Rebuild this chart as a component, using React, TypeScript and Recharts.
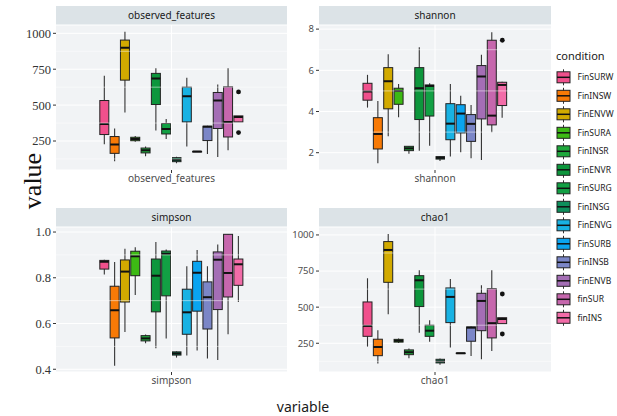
import {
	Bar,
	CartesianGrid,
	ComposedChart,
	ReferenceLine,
	Scatter,
	XAxis,
	YAxis,
} from "recharts";

const conditions = [
	"FinSURW",
	"FinINSW",
	"FinENVW",
	"FinSURA",
	"FinINSR",
	"FinENVR",
	"FinSURG",
	"FinINSG",
	"FinENVG",
	"FinSURB",
	"FinINSB",
	"FinENVB",
	"finSUR",
	"finINS",
];

const fills = [
	"#F0508C",
	"#F87A06",
	"#D2AA00",
	"#3DBA14",
	"#1FA83C",
	"#0D963C",
	"#12A044",
	"#0E8F5C",
	"#18B2E3",
	"#0AA4F0",
	"#7B86C7",
	"#A46EB5",
	"#C667AD",
	"#F26CA8",
];

// [lower whisker, q1, median, q3, upper whisker], one per condition
const observedStats = [
	[227, 295, 369, 532, 704],
	[109, 164, 225, 281, 337],
	[449, 674, 900, 953, 1011],
	[245, 252, 264, 276, 285],
	[144, 167, 185, 201, 211],
	[323, 504, 686, 721, 756],
	[264, 299, 334, 372, 404],
	[95, 106, 120, 134, 141],
	[211, 383, 562, 625, 690],
	[174, 175, 176, 177, 178],
	[160, 253, 350, 353, 356],
	[139, 337, 532, 588, 644],
	[185, 278, 383, 627, 756],
	[383, 383, 418, 425, 425],
];
const observedOutliers = [592, 309];

const shannonStats = [
	[4.19, 4.55, 4.97, 5.37, 5.78],
	[1.49, 2.18, 2.91, 3.7, 4.51],
	[2.8, 4.13, 5.47, 6.13, 6.78],
	[3.72, 4.35, 5.0, 5.13, 5.33],
	[1.95, 2.1, 2.21, 2.31, 2.33],
	[2.1, 3.61, 5.13, 6.13, 7.12],
	[2.34, 3.78, 5.24, 5.29, 5.37],
	[1.6, 1.69, 1.75, 1.81, 1.83],
	[1.81, 2.63, 3.41, 4.38, 5.34],
	[2.02, 2.96, 3.9, 4.33, 4.77],
	[1.73, 2.55, 3.4, 3.85, 4.32],
	[1.65, 3.64, 5.7, 6.23, 6.75],
	[2.99, 3.35, 3.8, 7.46, 7.85],
	[3.7, 4.29, 5.29, 5.42, 5.45],
];
const shannonOutliers = [7.46];

const simpsonStats = [
	[0.814, 0.838, 0.87, 0.876, 0.879],
	[0.415, 0.537, 0.658, 0.763, 0.869],
	[0.563, 0.694, 0.827, 0.878, 0.927],
	[0.725, 0.809, 0.894, 0.916, 0.933],
	[0.514, 0.524, 0.535, 0.547, 0.552],
	[0.492, 0.651, 0.809, 0.882, 0.956],
	[0.534, 0.721, 0.905, 0.917, 0.924],
	[0.451, 0.462, 0.469, 0.476, 0.478],
	[0.46, 0.553, 0.649, 0.75, 0.85],
	[0.482, 0.654, 0.822, 0.872, 0.921],
	[0.447, 0.576, 0.715, 0.782, 0.85],
	[0.441, 0.661, 0.879, 0.913, 0.946],
	[0.553, 0.716, 0.821, 0.99, 0.99],
	[0.694, 0.767, 0.859, 0.882, 0.983],
];
const simpsonOutliers: number[] = [];

const chao1Stats = [
	[227, 298, 370, 536, 700],
	[109, 164, 224, 278, 340],
	[451, 672, 896, 954, 1007],
	[252, 258, 267, 277, 283],
	[146, 171, 188, 204, 214],
	[323, 504, 686, 718, 756],
	[261, 298, 337, 375, 409],
	[102, 114, 125, 139, 144],
	[220, 393, 571, 633, 695],
	[179, 180, 181, 182, 183],
	[162, 264, 358, 363, 366],
	[139, 337, 543, 596, 651],
	[197, 287, 389, 628, 756],
	[386, 386, 418, 427, 427],
];
const chao1Outliers = [591, 314];

const countTicks = [250, 500, 750, 1000];
const countMinor = [125, 375, 625, 875];
const shannonTicks = [2, 4, 6, 8];
const shannonMinor = [3, 5, 7];
const simpsonTicks = [0.4, 0.6, 0.8, 1.0];
const simpsonMinor = [0.5, 0.7, 0.9];

const AXIS_W = 60;
const PLOT_H = 145;
const TOP_PAD = 8;
const STRIP_H = 19;
const PANEL_BG = "#F1F3F5";
const STRIP_BG = "#DCE3E7";
const SANS = "'Noto Sans', sans-serif";
const SERIF = "'Liberation Serif', serif";

type Row = {
	grp: string;
	cond: string;
	wh: number[];
	box: number[];
	med: number;
	o1?: number;
	o2?: number;
};

function buildRows(grp: string, stats: number[][], outliers: number[]): Row[] {
	return conditions.map((cond, i) => {
		const s = stats[i];
		const last = i === conditions.length - 1;
		return {
			grp,
			cond,
			wh: [s[0], s[4]],
			box: [s[1], s[3]],
			med: s[2],
			o1: last ? outliers[0] : undefined,
			o2: last ? outliers[1] : undefined,
		};
	});
}

function Whisker(p: any) {
	const cx = p.x + p.width / 2;
	return (
		<line
			x1={cx}
			x2={cx}
			y1={p.y}
			y2={p.y + p.height}
			stroke="#333"
			strokeWidth={1.1}
		/>
	);
}

function BoxShape(p: any) {
	const row: Row = p.payload;
	const top = Math.min(p.y, p.y + p.height);
	const h = Math.abs(p.height);
	const [q1, q3] = row.box;
	const medY = q3 > q1 ? top + (h * (q3 - row.med)) / (q3 - q1) : top;
	const w = p.width * 0.9;
	const x = p.x + (p.width - w) / 2;
	const fill = fills[conditions.indexOf(row.cond)];
	return (
		<g>
			<rect
				x={x}
				y={top}
				width={w}
				height={Math.max(h, 0.5)}
				fill={fill}
				stroke="#222"
				strokeWidth={1}
			/>
			<line x1={x} x2={x + w} y1={medY} y2={medY} stroke="#111" strokeWidth={2} />
		</g>
	);
}

function Dot(p: any) {
	if (p.cy == null || Number.isNaN(p.cy) || p.payload?.[p.dk] == null) return <g />;
	return <circle cx={p.cx} cy={p.cy} r={2.4} fill="#111" />;
}

type PanelProps = {
	name: string;
	rows: Row[];
	domain: [number, number];
	ticks: number[];
	minor: number[];
	left: number;
	top: number;
	width: number;
	serif: boolean;
	fmt?: (v: number) => string;
};

function Panel({ name, rows, domain, ticks, minor, left, top, width, serif, fmt }: PanelProps) {
	const pad = width * 0.1875;
	const tickStyle = serif
		? { fill: "#333", fontSize: 12.5, fontFamily: SERIF }
		: { fill: "#4d4d4d", fontSize: 9.5, fontFamily: SANS };
	return (
		<>
			<div
				style={{
					position: "absolute",
					left,
					top: top - STRIP_H,
					width,
					height: STRIP_H,
					background: STRIP_BG,
					fontFamily: SANS,
					fontSize: 10,
					color: "#1a1a1a",
					textAlign: "center",
					lineHeight: `${STRIP_H}px`,
				}}
			>
				{name}
			</div>
			<div style={{ position: "absolute", left: left - AXIS_W, top: top - TOP_PAD }}>
				<ComposedChart
					width={AXIS_W + width}
					height={PLOT_H + 22 + TOP_PAD}
					data={rows}
					margin={{ top: TOP_PAD, right: 0, bottom: 0, left: 0 }}
					barCategoryGap={0}
					barGap={0}
				>
					<XAxis
						xAxisId="lab"
						dataKey="grp"
						type="category"
						allowDuplicatedCategory={false}
						height={22}
						tickSize={3}
						tickMargin={2}
						axisLine={false}
						tickLine={{ stroke: "#333" }}
						tick={{ fill: "#4d4d4d", fontSize: 10, fontFamily: SANS }}
					/>
					<XAxis
						xAxisId="wh"
						dataKey="cond"
						type="category"
						hide
						height={0}
						padding={{ left: pad, right: pad }}
					/>
					<XAxis
						xAxisId="box"
						dataKey="cond"
						type="category"
						hide
						height={0}
						padding={{ left: pad, right: pad }}
					/>
					<YAxis
						type="number"
						domain={domain}
						allowDataOverflow
						ticks={ticks}
						width={AXIS_W}
						tickSize={3}
						tickMargin={2}
						axisLine={false}
						tickLine={{ stroke: "#333" }}
						tick={tickStyle}
						tickFormatter={fmt}
					/>
					<CartesianGrid xAxisId="lab" vertical={false} fill={PANEL_BG} stroke="#fff" strokeWidth={1} />
					{minor.map((v) => (
						<ReferenceLine key={v} xAxisId="lab" y={v} stroke="#fff" strokeWidth={0.5} />
					))}
					<ReferenceLine xAxisId="lab" x={name} stroke="#fff" strokeWidth={1} />
					<Bar xAxisId="wh" dataKey="wh" isAnimationActive={false} shape={Whisker} />
					<Bar xAxisId="box" dataKey="box" isAnimationActive={false} shape={BoxShape} />
					<Scatter
						xAxisId="box"
						dataKey="o1"
						isAnimationActive={false}
						shape={(p: any) => <Dot {...p} dk="o1" />}
					/>
					<Scatter
						xAxisId="box"
						dataKey="o2"
						isAnimationActive={false}
						shape={(p: any) => <Dot {...p} dk="o2" />}
					/>
				</ComposedChart>
			</div>
		</>
	);
}

function Legend() {
	const step = 18.5;
	return (
		<div style={{ position: "absolute", left: 550, top: 44, width: 67, height: 290 }}>
			<div
				style={{
					position: "absolute",
					left: 6,
					top: 4,
					fontFamily: SANS,
					fontSize: 11,
					color: "#1a1a1a",
					whiteSpace: "nowrap",
				}}
			>
				condition
			</div>
			<svg width={67} height={290} style={{ position: "absolute", left: 0, top: 0 }}>
				{conditions.map((c, i) => {
					const yc = 33.3 + i * step;
					const cx = 13.5;
					return (
						<g key={c}>
							<line x1={cx} x2={cx} y1={yc - 8} y2={yc + 8} stroke="#333" strokeWidth={1} />
							<rect x={7} y={yc - 5.5} width={13} height={11} fill={fills[i]} stroke="#222" strokeWidth={1} />
							<line x1={7} x2={20} y1={yc} y2={yc} stroke="#111" strokeWidth={1.5} />
							<text
								x={27.5}
								y={yc}
								dy="0.35em"
								fontFamily={SANS}
								fontSize={8.5}
								fill="#1a1a1a"
							>
								{c}
							</text>
						</g>
					);
				})}
			</svg>
		</div>
	);
}

export default function App() {
	const fmtSimpson = (v: number) => v.toFixed(1);
	return (
		<div
			style={{
				position: "absolute",
				left: 0,
				top: 0,
				width: 617,
				height: 416,
				background: "#fff",
				overflow: "hidden",
			}}
		>
			<Panel
				name="observed_features"
				rows={buildRows("observed_features", observedStats, observedOutliers)}
				domain={[48, 1058]}
				ticks={countTicks}
				minor={countMinor}
				left={56}
				top={25}
				width={231}
				serif
			/>
			<Panel
				name="shannon"
				rows={buildRows("shannon", shannonStats, shannonOutliers)}
				domain={[1.16, 8.2]}
				ticks={shannonTicks}
				minor={shannonMinor}
				left={319}
				top={25}
				width={232}
				serif={false}
			/>
			<Panel
				name="simpson"
				rows={buildRows("simpson", simpsonStats, simpsonOutliers)}
				domain={[0.388, 1.022]}
				ticks={simpsonTicks}
				minor={simpsonMinor}
				left={56}
				top={227}
				width={231}
				serif
				fmt={fmtSimpson}
			/>
			<Panel
				name="chao1"
				rows={buildRows("chao1", chao1Stats, chao1Outliers)}
				domain={[51, 1055]}
				ticks={countTicks}
				minor={countMinor}
				left={319}
				top={227}
				width={232}
				serif={false}
			/>
			<div
				style={{
					position: "absolute",
					left: 33,
					top: 181,
					transform: "translate(-50%, -50%) rotate(-90deg)",
					fontFamily: SERIF,
					fontSize: 26,
					color: "#111",
					whiteSpace: "nowrap",
				}}
			>
				value
			</div>
			<div
				style={{
					position: "absolute",
					left: 303,
					top: 406,
					transform: "translate(-50%, -50%)",
					fontFamily: SANS,
					fontSize: 14,
					color: "#1a1a1a",
					whiteSpace: "nowrap",
				}}
			>
				variable
			</div>
			<Legend />
		</div>
	);
}
